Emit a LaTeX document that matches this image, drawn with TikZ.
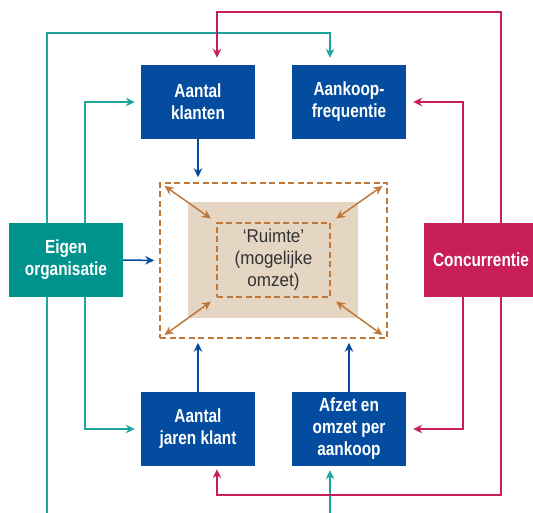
\documentclass[tikz,border=0pt]{standalone}
\usepackage{fontspec}
\setmainfont{Liberation Sans}
\newfontfamily\boxfont[FakeStretch=0.81,Ligatures=TeX]{Liberation Sans}
\newfontfamily\midfont[FakeStretch=0.92,Ligatures=TeX]{Liberation Sans}
\usetikzlibrary{arrows.meta,calc}
\definecolor{cblue}{RGB}{3,76,160}
\definecolor{cteal}{RGB}{0,146,140}
\definecolor{ltteal}{RGB}{30,164,156}
\definecolor{ccrim}{RGB}{200,30,90}
\definecolor{cbrown}{RGB}{192,120,58}
\definecolor{cbeige}{RGB}{229,213,195}
\definecolor{ctext}{RGB}{50,50,50}
\tikzset{
  box/.style={minimum width=114pt, minimum height=74pt, inner sep=0pt, align=center, text=white,
    font=\boxfont\bfseries\fontsize{19}{22}\selectfont},
  bluebox/.style={box, fill=cblue},
  tip/.style={-{Stealth[length=9pt,width=8.5pt]}},
  bl/.style={cblue, line width=1.5pt, tip},
  tl/.style={ltteal, line width=1.5pt, tip},
  cr/.style={ccrim, line width=1.5pt, tip},
  dsh/.style={draw=cbrown, line width=1.5pt, dash pattern=on 6pt off 3.5pt},
  dbl/.style={cbrown, line width=1.5pt, {Stealth[length=9pt,width=8.5pt]}-{Stealth[length=9pt,width=8.5pt]}, shorten <=6.5pt, shorten >=6.5pt}
}
\begin{document}
\begin{tikzpicture}[x=1pt,y=-1pt]
\useasboundingbox (0,0) rectangle (533,513);
\clip (0,0) rectangle (533,513);
% centre
\fill[cbeige] (188,202) rectangle (358,318);
\node[dsh, minimum width=227pt, minimum height=155pt, inner sep=0pt] (sp) at (273.5,260.5) {};
\node[dsh, minimum width=113pt, minimum height=74pt, inner sep=0pt, align=center, text=ctext,
  font=\midfont\fontsize{18.5}{22}\selectfont] (ru) at (273.5,260) {‘Ruimte’\\(mogelijke\\omzet)};
% boxes
\node[bluebox] (ak) at (198,102) {Aantal\\klanten};
\node[bluebox] (af) at (349,102) {Aankoop-\\frequentie};
\node[bluebox] (aj) at (198,429) {Aantal\\jaren klant};
\node[bluebox] (az) at (349,429) {Afzet en\\omzet per\\aankoop};
\node[box, fill=cteal] (eo) at (66,260) {Eigen\\organisatie};
\node[box, fill=ccrim] (co) at (481,260) {Concurrentie};
\coordinate (botL) at (47,514);
\coordinate (botR) at (330,514);
% double arrows
\draw[dbl] (sp.north west) -- (ru.north west);
\draw[dbl] (sp.north east) -- (ru.north east);
\draw[dbl] (sp.south west) -- (ru.south west);
\draw[dbl] (sp.south east) -- (ru.south east);
% blue arrows
\draw[bl, shorten >=5pt] (ak.south) -- (ak.south |- sp.north);
\draw[bl, shorten >=4pt] (aj.north) -- (aj.north |- sp.south);
\draw[bl, shorten >=4pt] (az.north) -- (az.north |- sp.south);
\draw[bl, shorten >=5pt] (eo.east) -- (sp.west);
% teal
\draw[tl, shorten >=7pt] ([xshift=-19pt]eo.north) |- ([xshift=-19pt,yshift=32pt]af.north) -- ([xshift=-19pt]af.north);
\draw[tl, shorten >=6pt] ([xshift=19pt]eo.north) |- (ak.west);
\draw[tl, shorten >=6pt] ([xshift=19pt]eo.south) |- (aj.west);
\draw[ltteal, line width=1.5pt] ([xshift=-19pt]eo.south) -- (botL);
\draw[tl, shorten >=4pt] (botR) -- ([xshift=-19pt]az.south);
% crimson
\draw[cr, shorten >=7pt] ([xshift=20pt]co.north) |- ([xshift=19pt,yshift=53pt]ak.north) -- ([xshift=19pt]ak.north);
\draw[cr, shorten >=7pt] ([xshift=-18pt]co.north) |- (af.east);
\draw[cr, shorten >=7pt] ([xshift=-18pt]co.south) |- (az.east);
\draw[cr, shorten >=3pt] ([xshift=20pt]co.south) |- ([xshift=19pt,yshift=-29pt]aj.south) -- ([xshift=19pt]aj.south);
\end{tikzpicture}
\end{document}
